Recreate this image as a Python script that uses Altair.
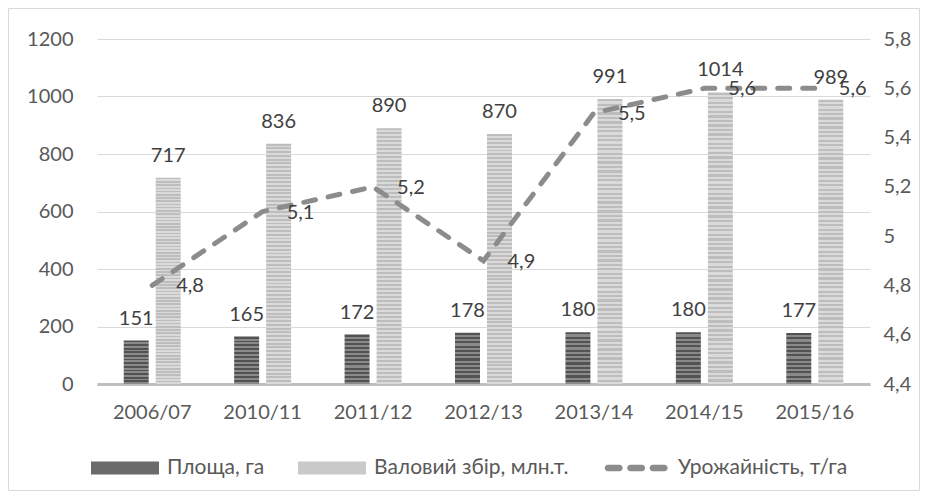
import altair as alt
import pandas as pd

# ---- data ----
seasons = ["2006/07", "2010/11", "2011/12", "2012/13", "2013/14", "2014/15", "2015/16"]
area = [151, 165, 172, 178, 180, 180, 177]            # Площа, га
gross = [717, 836, 890, 870, 991, 1014, 989]          # Валовий збір, млн.т.
yields = [4.8, 5.1, 5.2, 4.9, 5.5, 5.6, 5.6]          # Урожайність, т/га

S_AREA = "Площа, га"
S_GROSS = "Валовий збір, млн.т."
S_YIELD = "Урожайність, т/га"

left_ticks = [0, 200, 400, 600, 800, 1000, 1200]
right_ticks = [4.4, 4.6, 4.8, 5.0, 5.2, 5.4, 5.6, 5.8]

bars_df = pd.DataFrame({
    "season": seasons * 2,
    "series": [S_AREA] * len(seasons) + [S_GROSS] * len(seasons),
    "value": area + gross,
})
yield_df = pd.DataFrame({"season": seasons, "series": S_YIELD, "value": yields})

FONT = "Lato"
AX_COL = "#595959"
TXT_COL = "#404040"
DARK = "#6b6b6b"
LIGHT = "#c9c9c9"
LINE = "#8c8c8c"


def stripes(c1, c2, n):
    stops = []
    for i in range(n):
        a, m, b = i / n, (i + 0.5) / n, (i + 1) / n
        stops += [
            alt.GradientStop(offset=a, color=c1),
            alt.GradientStop(offset=m, color=c1),
            alt.GradientStop(offset=m, color=c2),
            alt.GradientStop(offset=b, color=c2),
        ]
    return alt.LinearGradient(gradient="linear", stops=stops, x1=0, x2=0, y1=0, y2=1)


x_enc = alt.X(
    "season:N", sort=seasons,
    scale=alt.Scale(paddingInner=0.484, paddingOuter=0.242),
    axis=alt.Axis(title=None, labelAngle=0, ticks=False, grid=False,
                  domainColor="#bfbfbf", domainWidth=3, labelPadding=18,
                  labelFont=FONT, labelFontSize=20, labelColor=AX_COL),
)
xoff_enc = alt.XOffset(
    "series:N", sort=[S_AREA, S_GROSS],
    scale=alt.Scale(domain=[S_AREA, S_GROSS], paddingInner=0.219, paddingOuter=0),
)
y_left = alt.Y(
    "value:Q",
    scale=alt.Scale(domain=[0, 1200], nice=False),
    axis=alt.Axis(values=left_ticks, title=None, domain=False, ticks=False,
                  gridColor="#d9d9d9", gridWidth=1, labelPadding=24,
                  labelFont=FONT, labelFontSize=20, labelColor=AX_COL),
)
y_right = alt.Y(
    "value:Q",
    scale=alt.Scale(domain=[4.4, 5.8], nice=False, zero=False),
    axis=alt.Axis(orient="right", values=right_ticks, format=".1~f", title=None,
                  grid=False, domain=False, ticks=False, labelPadding=13,
                  labelAlign="left", labelFont=FONT, labelFontSize=20,
                  labelColor=AX_COL),
)

base_bars = alt.Chart(bars_df)
bar_area = base_bars.transform_filter(alt.datum.series == S_AREA).mark_bar(
    color=stripes("#525252", "#8a8a8a", 12)
).encode(x=x_enc, xOffset=xoff_enc, y=y_left)
bar_gross = base_bars.transform_filter(alt.datum.series == S_GROSS).mark_bar(
    color=stripes("#bdbdbd", "#dadada", 64)
).encode(x=x_enc, xOffset=xoff_enc, y=y_left)
bar_text = base_bars.mark_text(
    baseline="alphabetic", dy=-16, font=FONT, fontSize=20, color=TXT_COL
).encode(x=x_enc, xOffset=xoff_enc, y=y_left, text=alt.Text("value:Q", format="d"))

frame = alt.Chart(alt.Data(values=[{"f": 1}])).mark_rect(
    fill="transparent", stroke="#d9d9d9", strokeWidth=1
).encode(x=alt.value(-88.5), x2=alt.value(822.5), y=alt.value(-30.5), y2=alt.value(451.5))

left = alt.layer(frame, bar_area, bar_gross, bar_text)


def pill(x0, x1, r):
    return (f"M{x0 + r},{-r}H{x1 - r}A{r},{r} 0 0 1 {x1 - r},{r}"
            f"H{x0 + r}A{r},{r} 0 0 1 {x0 + r},{-r}Z")


rect_path = "M-1,-0.19H1V0.19H-1Z"
dash_path = " ".join([pill(-0.92, -0.39, 0.095), pill(-0.26, 0.27, 0.095),
                      pill(0.40, 0.93, 0.095)])
legend = alt.Legend(
    title=None, orient="none", legendX=-6, legendY=395, direction="horizontal",
    columns=3, symbolSize=4624, symbolStrokeWidth=0, symbolOpacity=1,
    labelFont=FONT, labelFontSize=21, labelColor=AX_COL, labelOffset=8,
    columnPadding=33, labelLimit=400,
)
series_dom = [S_AREA, S_GROSS, S_YIELD]

line = alt.Chart(yield_df).mark_line(
    color=LINE, strokeWidth=5, strokeDash=[12, 13], strokeCap="round"
).encode(x=x_enc, y=y_right)
line_text = alt.Chart(yield_df).mark_text(
    align="left", baseline="middle", dx=24, dy=1, font=FONT, fontSize=20, color=TXT_COL
).encode(x=x_enc, y=y_right, text=alt.Text("value:Q", format=".1f"))
legend_pts = alt.Chart(yield_df).mark_point(filled=True, opacity=0).encode(
    x=x_enc, y=y_right,
    color=alt.Color("series:N", scale=alt.Scale(domain=series_dom, range=[DARK, LIGHT, LINE]),
                    legend=legend),
    shape=alt.Shape("series:N", scale=alt.Scale(domain=series_dom,
                                                range=[rect_path, rect_path, dash_path]),
                    legend=legend),
)
right = alt.layer(line, line_text, legend_pts)

chart = alt.layer(left, right).resolve_scale(y="independent").properties(
    width=773, height=345, autosize="none",
    padding={"left": 89, "top": 31, "right": 50, "bottom": 107},
).configure(
    font=FONT,
    locale={"number": {"decimal": ",", "thousands": "", "grouping": [3],
                       "currency": ["", ""]}},
).configure_view(strokeWidth=0)

chart.save("out.html", embed_options={"renderer": "svg", "actions": False})
